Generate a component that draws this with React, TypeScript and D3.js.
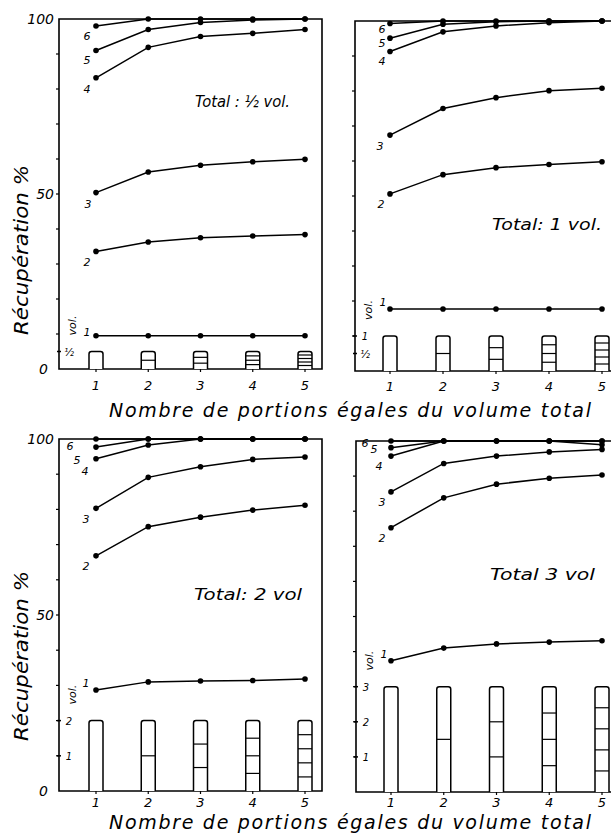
import * as d3 from "d3";

// Récupération (%) par nombre de portions égales, séries 1..6
const portions = [1, 2, 3, 4, 5];
const seriesNames = ["1", "2", "3", "4", "5", "6"];

const halfVol = [
  [9.5, 9.5, 9.5, 9.5, 9.5],
  [33.6, 36.3, 37.5, 38, 38.4],
  [50.4, 56.3, 58.2, 59.2, 59.9],
  [83.2, 91.9, 95, 95.9, 97],
  [91, 97, 99, 99.7, 100],
  [98, 100, 100, 100, 100],
];
const oneVol = [
  [17.7, 17.7, 17.7, 17.7, 17.7],
  [50.6, 56.1, 58.1, 59, 59.8],
  [67.4, 75, 78.1, 80.1, 80.8],
  [91.3, 96.9, 98.6, 99.5, 100],
  [95.1, 99.1, 99.8, 100, 100],
  [99.3, 100, 100, 100, 100],
];
const twoVol = [
  [28.7, 31, 31.25, 31.4, 31.8],
  [66.8, 75.1, 77.8, 79.8, 81.2],
  [80.3, 89.1, 92.1, 94.2, 94.9],
  [94.4, 98.3, 100, 100, 100],
  [97.7, 100, 100, 100, 100],
  [100, 100, 100, 100, 100],
];
const threeVol = [
  [37.4, 41, 42.2, 42.7, 43.1],
  [75.3, 83.8, 87.7, 89.4, 90.3],
  [85.5, 93.6, 95.7, 96.9, 97.6],
  [95.7, 100, 100, 100, 98.9],
  [98.1, 100, 100, 100, 100],
  [100, 100, 100, 100, 100],
];

const totalVolumes = [0.5, 1, 2, 3];
const volTickValues = [[0.5], [0.5, 1], [1, 2], [1, 2, 3]];
const volTickLabels = [["½"], ["½", "1"], ["1", "2"], ["1", "2", "3"]];
const panelTitles = ["Total : ½ vol.", "Total: 1 vol.", "Total: 2 vol", "Total 3 vol"];
const yTickLabels = ["0", "50", "100"];
const yAxisTitle = "Récupération %";
const xAxisTitle = "Nombre de portions égales du volume total";

const allData = [halfVol, oneVol, twoVol, threeVol];

const FONT = "'DejaVu Sans', sans-serif";

// layout of the four panels
const panels = [
  { left: 59, right: 322, top: 19, bottom: 369, x1: 96, x5: 305, border: true, yLabels: true, tickDy: 21,
    title: { x: 195, y: 107, len: 95 },
    offs: [[-9, 0], [-9, 15], [-8, 15], [-9, 15], [-9, 13], [-9, 14]] },
  { left: 355, right: 640, top: 21, bottom: 371, x1: 390, x5: 602, border: false, yLabels: false, tickDy: 20,
    title: { x: 492, y: 230, len: 110 },
    offs: [[-7, -3], [-9, 14], [-10, 15], [-8, 14], [-8, 9], [-8, 10]] },
  { left: 59, right: 322, top: 439, bottom: 791, x1: 96, x5: 305, border: true, yLabels: true, tickDy: 16,
    title: { x: 194, y: 600, len: 108 },
    offs: [[-10, -3], [-10, 14], [-10, 15], [-11, 16], [-19, 17], [-26, 11]] },
  { left: 356, right: 640, top: 441, bottom: 792, x1: 391, x5: 602, border: false, yLabels: false, tickDy: 15,
    title: { x: 490, y: 580, len: 105 },
    offs: [[-7, -3], [-9, 14], [-9, 14], [-12, 14], [-17, 5], [-26, 6]] },
];

function Panel({ idx }: { idx: number }) {
  const p = panels[idx];
  const data = allData[idx];
  const x = d3.scaleLinear().domain([1, 5]).range([p.x1, p.x5]);
  const y = d3.scaleLinear().domain([0, 100]).range([p.bottom, p.top]);
  // 1 vol = 10 % on the same vertical scale
  const yv = (v: number) => y(v * 10);
  const line = d3
    .line<number>()
    .x((_, i) => x(portions[i]))
    .y((d) => y(d));
  const barW = 14;
  const total = totalVolumes[idx];
  const yTicks = d3.range(10, 100, 10);

  return (
    <g>
      {/* frame */}
      <path
        d={
          p.border
            ? `M${p.left},${p.top}H${p.right}V${p.bottom}H${p.left}Z`
            : `M${p.right},${p.top}H${p.left}V${p.bottom}H${p.right}`
        }
        fill="none"
        stroke="#000"
        strokeWidth={1.6}
      />
      {yTicks.map((t) => (
        <line key={t} x1={p.left - 3} x2={p.left} y1={y(t)} y2={y(t)} stroke="#000" strokeWidth={1.2} />
      ))}
      {p.yLabels &&
        [0, 50, 100].map((t, i) => (
          <text
            key={t}
            x={t === 0 ? p.left - 11 : p.left - 5}
            y={y(t) + 5}
            textAnchor="end"
            fontSize={14}
            fontStyle="italic"
            fontFamily={FONT}
          >
            {yTickLabels[i]}
          </text>
        ))}
      {/* x ticks + labels */}
      {portions.map((n) => (
        <g key={n}>
          <line x1={x(n)} x2={x(n)} y1={p.bottom} y2={p.bottom + 3} stroke="#000" strokeWidth={1.2} />
          <text
            x={x(n)}
            y={p.bottom + p.tickDy}
            textAnchor="middle"
            fontSize={13}
            fontStyle="italic"
            fontFamily={FONT}
          >
            {n}
          </text>
        </g>
      ))}
      {/* volume scale */}
      {volTickValues[idx].map((v, i) => (
        <g key={v}>
          <line x1={p.left - 2} x2={p.left + 2} y1={yv(v)} y2={yv(v)} stroke="#000" strokeWidth={1.5} />
          <text
            x={p.left + 10}
            y={yv(v) + 4}
            textAnchor="middle"
            fontSize={10}
            fontStyle="italic"
            fontFamily={FONT}
          >
            {volTickLabels[idx][i]}
          </text>
        </g>
      ))}
      <text
        transform={`translate(${p.left + 17},${yv(total) - 26}) rotate(-90)`}
        textAnchor="middle"
        fontSize={11}
        fontStyle="italic"
        fontFamily={FONT}
      >
        vol.
      </text>
      {/* bars divided into n equal portions */}
      {portions.map((n) => {
        const bx = x(n) - barW / 2;
        const top = yv(total);
        const h = p.bottom - top;
        const r = 2.5;
        return (
          <g key={n}>
            <path
              d={`M${bx},${p.bottom}V${top + r}Q${bx},${top} ${bx + r},${top}H${bx + barW - r}Q${bx + barW},${top} ${bx + barW},${top + r}V${p.bottom}`}
              fill="#fff"
              stroke="#000"
              strokeWidth={1.5}
            />
            {d3.range(1, n).map((k) => (
              <line
                key={k}
                x1={bx}
                x2={bx + barW}
                y1={p.bottom - (h * k) / n}
                y2={p.bottom - (h * k) / n}
                stroke="#000"
                strokeWidth={1.2}
              />
            ))}
          </g>
        );
      })}
      {/* series */}
      {data.map((s, i) => (
        <g key={i}>
          <path d={line(s) ?? ""} fill="none" stroke="#000" strokeWidth={1.5} />
          {s.map((v, j) => (
            <circle key={j} cx={x(portions[j])} cy={y(v)} r={2.8} fill="#000" />
          ))}
          <text
            x={x(1) + p.offs[i][0]}
            y={y(s[0]) + p.offs[i][1]}
            textAnchor="middle"
            fontSize={11}
            fontStyle="italic"
            fontFamily={FONT}
          >
            {seriesNames[i]}
          </text>
        </g>
      ))}
      <text
        x={p.title.x}
        y={p.title.y}
        fontSize={16}
        fontStyle="italic"
        fontFamily={FONT}
        textLength={p.title.len}
        lengthAdjust="spacingAndGlyphs"
      >
        {panelTitles[idx]}
      </text>
    </g>
  );
}

export default function App() {
  return (
    <svg
      width={611}
      height={836}
      style={{ position: "absolute", left: 0, top: 0, background: "#fff" }}
    >
      <rect width={611} height={836} fill="#fff" />
      {panels.map((_, i) => (
        <Panel key={i} idx={i} />
      ))}
      {[250, 656].map((cy) => (
        <text
          key={cy}
          transform={`translate(28,${cy}) rotate(-90)`}
          textAnchor="middle"
          fontSize={20}
          fontStyle="italic"
          fontFamily={FONT}
          textLength={170}
          lengthAdjust="spacingAndGlyphs"
        >
          {yAxisTitle}
        </text>
      ))}
      {[417, 829].map((by) => (
        <text
          key={by}
          x={109}
          y={by}
          fontSize={19}
          fontStyle="italic"
          fontFamily={FONT}
          textLength={482}
          lengthAdjust="spacing"
        >
          {xAxisTitle}
        </text>
      ))}
    </svg>
  );
}
